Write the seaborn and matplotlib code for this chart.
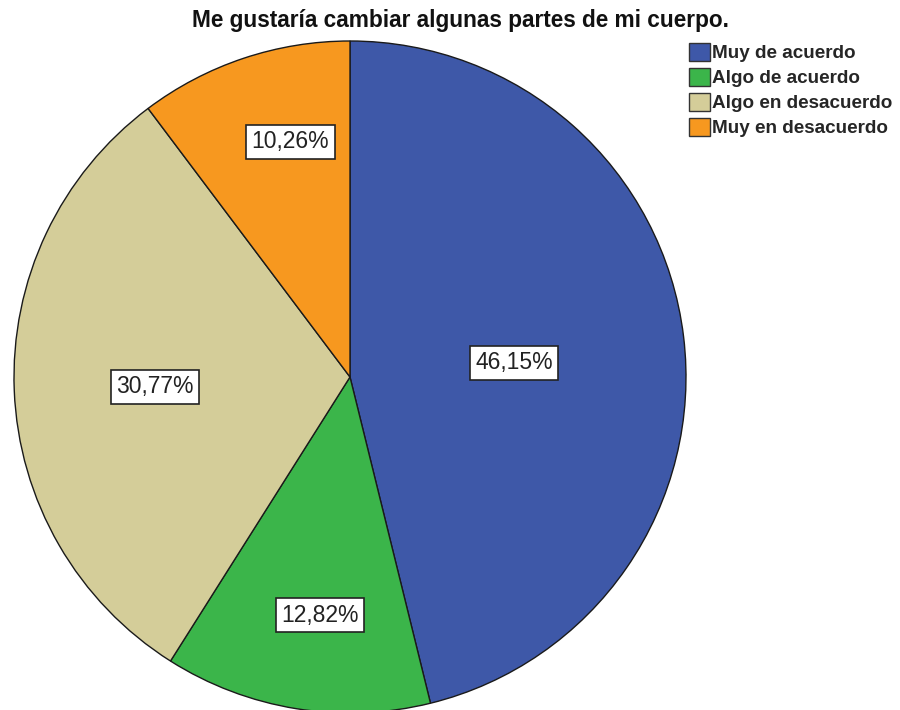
import numpy as np
import matplotlib
matplotlib.use("Agg")
import matplotlib.pyplot as plt
import seaborn as sns
from matplotlib.patches import Patch

sns.set_theme(style="white")
plt.rcParams["font.family"] = ["Liberation Sans", "DejaVu Sans"]

# Survey answers and their shares (%)
categories = ["Muy de acuerdo", "Algo de acuerdo", "Algo en desacuerdo", "Muy en desacuerdo"]
shares = [46.15, 12.82, 30.77, 10.26]
share_labels = ["46,15%", "12,82%", "30,77%", "10,26%"]
colors = ["#3e58a8", "#3bb54a", "#d4cd99", "#f7981f"]
# label placement inside each wedge: radius (fraction of pie radius) and
# angular shift (degrees) from the wedge's middle
label_radius = [0.490, 0.714, 0.581, 0.722]
label_shift = [-2.0, 2.0, 0.6, -4.2]

W, H = 900, 710
fig = plt.figure(figsize=(W / 100, H / 100), dpi=100)
fig.patch.set_facecolor("white")

# Pie axes: circle centered at (350, 377) px with radius 336 px
cx, cy, r = 350, 377, 336
ax = fig.add_axes([(cx - r) / W, (H - cy - r) / H, 2 * r / W, 2 * r / H])
wedges, _ = ax.pie(
    shares, colors=colors, startangle=90, counterclock=False,
    radius=1.0, wedgeprops=dict(edgecolor="#1a1a1a", linewidth=1.0),
)
ax.set_xlim(-1, 1)
ax.set_ylim(-1, 1)
ax.set_aspect("equal")
ax.axis("off")

for w, lab, rr, sh in zip(wedges, share_labels, label_radius, label_shift):
    mid = np.deg2rad((w.theta1 + w.theta2) / 2 + sh)
    ax.text(rr * np.cos(mid), rr * np.sin(mid), lab, ha="center", va="center",
            fontsize=16.5, color="#222222",
            bbox=dict(boxstyle="square,pad=0.24", facecolor="white",
                      edgecolor="#222222", linewidth=1.2))

fig.text(460 / W, 1 - 21 / H, "Me gustaría cambiar algunas partes de mi cuerpo.",
         ha="center", va="center", fontsize=16.3, fontweight="bold", color="#111111")

handles = [Patch(facecolor=c, edgecolor="#333333", linewidth=1.0) for c in colors]
leg = fig.legend(handles, categories, loc="upper left",
                 bbox_to_anchor=(689 / W, 1 - 43 / H), frameon=False,
                 prop=dict(weight="bold", size=13.6),
                 handlelength=1.1, handleheight=1.05, handletextpad=0.1,
                 labelspacing=0.31, borderpad=0.0, borderaxespad=0.0)

fig.savefig("out.png", dpi=100, facecolor="white")
